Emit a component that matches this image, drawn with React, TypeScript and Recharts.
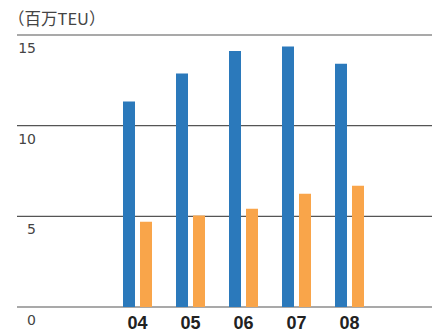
import { BarChart, Bar, XAxis, YAxis, CartesianGrid } from "recharts";

const years = ["04", "05", "06", "07", "08"];
const blueValues = [11.33, 12.87, 14.12, 14.36, 13.42];
const orangeValues = [4.7, 5.05, 5.42, 6.24, 6.68];
const yTicks = [0, 5, 10, 15];
const unitLabel = "（百万TEU）";

const data = years.map((year, i) => ({
  year,
  blue: blueValues[i],
  orange: orangeValues[i],
}));

// y labels sit just under their gridline, right-aligned
function YTick(props: any) {
  const { y, payload } = props;
  return (
    <text
      x={36}
      y={y + 18}
      textAnchor="end"
      fontSize={14}
      fontFamily="'DejaVu Sans', sans-serif"
      fill="#444"
    >
      {payload.value}
    </text>
  );
}

function XTick(props: any) {
  const { x, y, payload } = props;
  return (
    <text
      x={x}
      y={y + 14}
      textAnchor="middle"
      fontSize={18}
      fontWeight="bold"
      fontFamily="'Liberation Sans', Arial, sans-serif"
      fill="#222"
    >
      {payload.value}
    </text>
  );
}

export default function App() {
  return (
    <div
      style={{
        position: "absolute",
        top: 0,
        left: 0,
        width: 440,
        height: 335,
        background: "#fff",
      }}
    >
      <div
        style={{
          position: "absolute",
          left: 8,
          top: 7,
          fontSize: 16.5,
          fontFamily: "'Noto Sans CJK JP', sans-serif",
          color: "#444",
          lineHeight: "22px",
        }}
      >
        {unitLabel}
      </div>
      <BarChart
        width={440}
        height={335}
        data={data}
        margin={{ top: 35, right: 8, bottom: 0, left: 0 }}
        barSize={12}
        barGap={5}
      >
        <CartesianGrid vertical={false} stroke="#555" strokeWidth={1.2} />
        <XAxis
          dataKey="year"
          axisLine={false}
          tickLine={false}
          height={28}
          padding={{ left: 94, right: 56 }}
          tick={<XTick />}
          interval={0}
        />
        <YAxis
          width={17}
          domain={[0, 15]}
          ticks={yTicks}
          axisLine={false}
          tickLine={false}
          tick={<YTick />}
        />
        <Bar dataKey="blue" fill="#2b79bb" isAnimationActive={false} />
        <Bar dataKey="orange" fill="#f9a54a" isAnimationActive={false} />
      </BarChart>
    </div>
  );
}
